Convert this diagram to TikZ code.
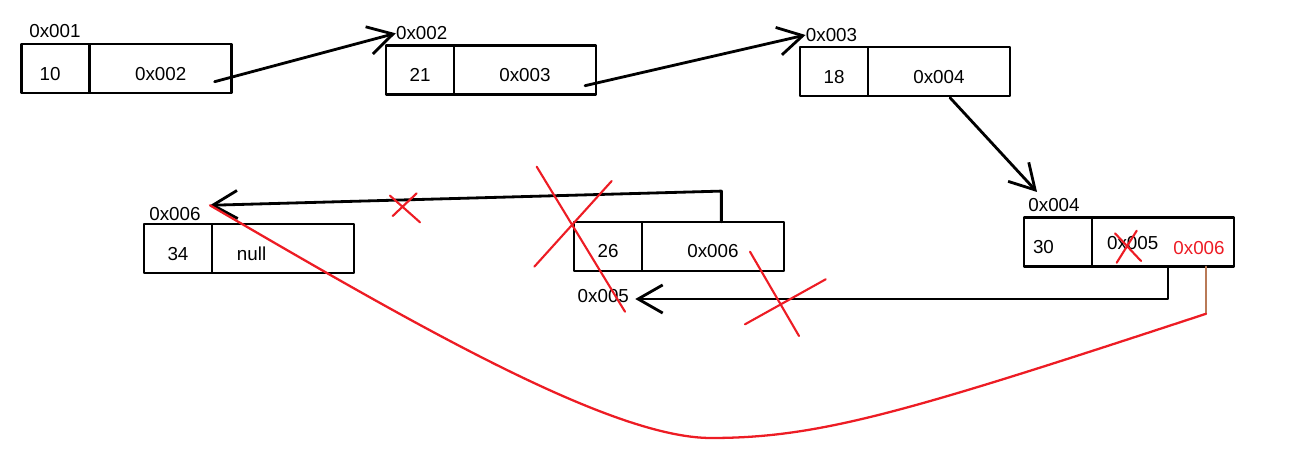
\documentclass[tikz,border=0pt]{standalone}
\usepackage{fontspec}
\setmainfont{Liberation Sans}
\usepackage{xcolor}
\definecolor{paintred}{RGB}{237,28,36}
\definecolor{paintbrown}{RGB}{185,122,87}
\usetikzlibrary{arrows.meta,positioning,calc}
\tikzset{
	cell/.style={draw,line width=1.4pt,minimum height=0.98cm,outer sep=0pt,inner sep=0pt,text height=0.46cm,text depth=0pt,font=\fontsize{10.7}{12}\selectfont},
	valcell/.style={cell,minimum width=1.36cm},
	ptrcell/.style={cell,minimum width=2.84cm},
	addr/.style={inner sep=0pt,font=\fontsize{10.7}{12}\selectfont},
	link/.style={->,line width=1.6pt},
	cross/.style={color=paintred,line width=1.2pt}
}
\begin{document}
\begin{tikzpicture}[line cap=round,line join=round,>={Straight Barb[length=14pt,width=16pt]},x=0.02cm,y=-0.02cm]
	\useasboundingbox (0,0) rectangle (1298,452);
	% list cells
	\node[valcell,inner xsep=0.36cm,text width=0.64cm,align=left] (v1) at (55.7,68.7) {10};
	\node[ptrcell,right=0pt of v1] (p1) {0x002};
	\node[addr] (a1) at (55,30.7) {0x001};
	\node[valcell] (v2) at (420,70) {21};
	\node[ptrcell,right=0pt of v2] (p2) {0x003};
	\node[addr] (a2) at (421.7,33.3) {0x002};
	\node[valcell] (v3) at (834,71.7) {18};
	\node[ptrcell,right=0pt of v3] (p3) {0x004};
	\node[addr] (a3) at (831.5,35) {0x003};
	\node[valcell,inner xsep=0.18cm,text width=1cm,align=left] (v4) at (1058,242) {30};
	\node[ptrcell,right=0pt of v4] (p4) {};
	\node[addr] (a4) at (1054,205) {0x004};
	\node[addr] (old4) at (1132.7,243.3) {0x005};
	\node[addr,text=paintred] (new4) at (1199,247.7) {0x006};
	\node[valcell] (v5) at (608,246.3) {26};
	\node[ptrcell,right=0pt of v5] (p5) {0x006};
	\node[addr] (a5) at (603.3,296) {0x005};
	\node[valcell] (v6) at (178,248.7) {34};
	\node[ptrcell,right=0pt of v6,inner xsep=0.5cm,text width=1.84cm,align=left] (p6) {null};
	\node[addr] (a6) at (175,214.3) {0x006};
	% next pointers
	\coordinate (s1) at (214.6,81.7);
	\coordinate (s2) at (585,85.7);
	\coordinate (s3) at (950,97.7);
	\coordinate (s4) at ($(p4.south)+(5,0)$);
	\coordinate (s5) at ($(p5.north)+(8.4,0)$);
	\coordinate (k5) at ($(s5)+(0,-30.7)$);
	\coordinate (t6) at ($(a6.north east)+(9,-2)$);
	\coordinate (b6) at ($(p4.south)+(43,47.3)$);
	\draw[link] (s1) -- (a2.west);
	\draw[link] (s2) -- (a3.west);
	\draw[link] (s3) -- ($(a4.north west)+(9,-6)$);
	\draw[link] (s4) |- ($(a5.east)+(6,3)$);
	\draw[link] (s5) -- (k5) -- (t6);
	% crossed out
	\draw[cross] (390,195.7) -- (420,222.3) (416.7,193.3) -- (392.7,216);
	\draw[cross] (536.7,166.7) -- (625,311.7) (611.7,181) -- (534.3,266.7);
	\draw[cross] (750,251.7) -- (799,336) (825.7,279.3) -- (745,324.3);
	\draw[cross] (1115,233.3) -- (1141,261) (1116.7,262.7) -- (1136.7,230.7);
	% new pointer
	\draw[color=paintbrown,line width=1.1pt] ($(p4.south)+(43,0)$) -- (b6);
	\draw[color=paintred,line width=1.3pt] (b6) .. controls (907,412) and (820,438) .. (711,438) .. controls (610,438) and (410,322) .. (t6);
\end{tikzpicture}
\end{document}
